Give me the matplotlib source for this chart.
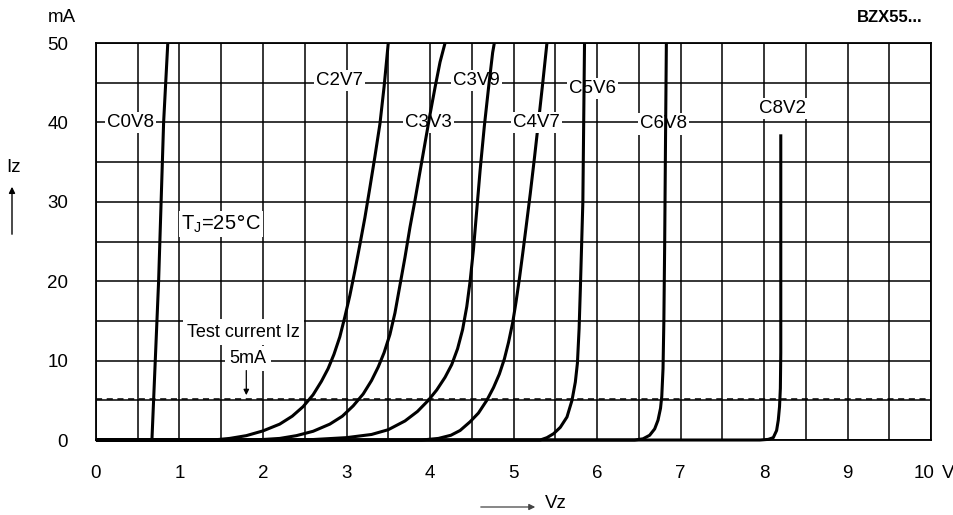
import matplotlib
matplotlib.use("Agg")
import matplotlib.pyplot as plt
from matplotlib.patches import FancyArrowPatch
from matplotlib.transforms import ScaledTranslation
import numpy as np

plt.rcParams['font.family'] = ['Liberation Sans', 'DejaVu Sans']

# Zener curves (V in volts, I in mA)
c0v8_v = [0.0, 0.67, 0.69, 0.71, 0.75, 0.78, 0.81, 0.86]
c0v8_i = [0.0, 0.0, 5.0, 10.0, 20.0, 30.0, 40.0, 50.0]

c2v7_v = [0.0, 1.4, 1.6, 1.8, 2.0, 2.2, 2.35, 2.48, 2.6, 2.7, 2.78, 2.85, 2.92,
          2.98, 3.04, 3.10, 3.16, 3.22, 3.28, 3.34, 3.40, 3.45, 3.50]
c2v7_i = [0.0, 0.0, 0.2, 0.55, 1.15, 2.0, 3.0, 4.2, 5.7, 7.4, 9.0, 10.8, 13.0,
          15.5, 18.2, 21.3, 24.6, 28.0, 31.8, 35.7, 39.8, 44.5, 50.0]

c3v3_v = [0.0, 1.9, 2.2, 2.4, 2.6, 2.8, 2.95, 3.08, 3.2, 3.3, 3.38, 3.45, 3.52,
          3.58, 3.64, 3.70, 3.76, 3.82, 3.88, 3.94, 4.00, 4.06, 4.12, 4.18]
c3v3_i = [0.0, 0.0, 0.2, 0.55, 1.1, 2.0, 3.0, 4.3, 5.8, 7.5, 9.2, 11.0, 13.3,
          16.0, 19.5, 23.0, 26.8, 30.2, 33.8, 37.4, 41.0, 44.4, 47.6, 50.0]

c3v9_v = [0.0, 2.5, 3.0, 3.3, 3.5, 3.7, 3.85, 3.98, 4.08, 4.18, 4.26, 4.33, 4.39,
          4.44, 4.48, 4.52, 4.56, 4.60, 4.65, 4.70, 4.75, 4.77]
c3v9_i = [0.0, 0.0, 0.3, 0.7, 1.3, 2.4, 3.6, 5.0, 6.3, 7.9, 9.5, 11.5, 13.9,
          16.8, 20.0, 24.0, 29.0, 34.0, 39.5, 44.3, 48.8, 50.0]

c4v7_v = [0.0, 3.9, 4.1, 4.25, 4.36, 4.48, 4.58, 4.68, 4.76, 4.83, 4.89, 4.94,
          4.99, 5.03, 5.07, 5.11, 5.15, 5.20, 5.25, 5.30, 5.35, 5.40]
c4v7_i = [0.0, 0.0, 0.2, 0.6, 1.2, 2.3, 3.4, 5.0, 6.6, 8.3, 10.2, 12.3,
          14.8, 17.4, 20.3, 23.5, 26.8, 31.0, 35.5, 40.2, 45.0, 50.0]

c5v6_v = [0.0, 5.32, 5.40, 5.48, 5.56, 5.64, 5.70, 5.74, 5.765, 5.785, 5.80,
          5.815, 5.83, 5.84, 5.85]
c5v6_i = [0.0, 0.0, 0.3, 0.8, 1.6, 2.9, 5.0, 7.3, 9.7, 14.0, 19.0,
          24.5, 30.0, 40.0, 50.0]

c6v8_v = [0.0, 6.45, 6.55, 6.63, 6.69, 6.73, 6.76, 6.775, 6.79, 6.80, 6.81, 6.82, 6.83]
c6v8_i = [0.0, 0.0, 0.15, 0.6, 1.4, 2.5, 4.0, 5.5, 9.0, 15.0, 25.0, 38.0, 50.0]

c8v2_v = [0.0, 7.95, 8.05, 8.11, 8.15, 8.17, 8.185, 8.195, 8.20, 8.20]
c8v2_i = [0.0, 0.0, 0.08, 0.3, 1.2, 2.5, 4.2, 6.5, 11.0, 38.5]

curves = [
    (c0v8_v, c0v8_i, 4), (c2v7_v, c2v7_i, 4), (c3v3_v, c3v3_i, 4),
    (c3v9_v, c3v9_i, 4), (c4v7_v, c4v7_i, 2), (c5v6_v, c5v6_i, 4),
    (c6v8_v, c6v8_i, 4), (c8v2_v, c8v2_i, 4),
]

# curve labels: text, V, mA
label_text = ["C0V8", "C2V7", "C3V9", "C3V3", "C4V7", "C5V6", "C6V8", "C8V2"]
label_v = [0.41, 2.92, 4.56, 3.98, 5.28, 5.95, 6.80, 8.22]
label_i = [40.0, 45.3, 45.3, 40.0, 40.0, 44.3, 39.8, 41.8]

test_current = 5.2

fig = plt.figure(figsize=(9.54, 5.15), dpi=100)
ax = fig.add_axes([0.1006, 0.1456, 0.8754, 0.7709])

ax.set_xlim(0, 10)
ax.set_ylim(0, 50)
ax.set_xticks(range(0, 11))
ax.set_xticklabels([str(v) for v in range(0, 11)])
ax.set_xticks(np.arange(0, 10.01, 0.5), minor=True)
ax.set_yticks(range(0, 51, 10))
ax.set_yticks(range(0, 51, 5), minor=True)
ax.tick_params(which='both', length=0)
ax.tick_params(axis='x', pad=18, labelsize=13.5)
ax.tick_params(axis='y', pad=20, labelsize=13.5)
ax.grid(True, which='both', color='black', lw=1.1, zorder=1)
ax.set_axisbelow(True)
for s in ax.spines.values():
    s.set_color('black')
    s.set_linewidth(1.3)

# shift the "10" a bit left to leave room for the unit
last = ax.get_xticklabels()[-1]
last.set_transform(last.get_transform() + ScaledTranslation(-0.07, 0, fig.dpi_scale_trans))

ax.axhline(test_current, color='black', lw=1.1, ls=(0, (4, 3)), zorder=2)

for v, i, z in curves:
    ax.plot(v, i, color='black', lw=2.2, zorder=z, solid_capstyle='butt',
            solid_joinstyle='round', clip_on=False)

box = dict(facecolor='white', edgecolor='none', pad=1.5)
for t, v, i in zip(label_text, label_v, label_i):
    ax.text(v, i, t, ha='center', va='center', fontsize=13.5, zorder=3, bbox=box)

ax.text(1.5, 27.2, r"T$_\mathregular{J}$=25$\degree$C", ha='center', va='center',
        fontsize=14.5, zorder=3, bbox=box)
ax.text(1.77, 13.6, "Test current Iz", ha='center', va='center', fontsize=13,
        zorder=3, bbox=dict(facecolor='white', edgecolor='none', pad=3))
ax.text(1.82, 10.3, "5mA", ha='center', va='center', fontsize=13, zorder=3,
        bbox=dict(facecolor='white', edgecolor='none', pad=3))
ax.annotate("", xy=(1.80, test_current + 0.1), xytext=(1.80, 9.1),
            arrowprops=dict(arrowstyle='-|>', color='black', lw=0.9,
                            mutation_scale=8), zorder=3)

# outside texts
fig.text(62 / 954, 1 - 18 / 515, "mA", ha='center', va='center', fontsize=13.5)
fig.text(948 / 954, 1 - 473 / 515, "V", ha='center', va='center', fontsize=13.5)
fig.text(890 / 954, 1 - 18 / 515, "BZX55...", ha='center', va='center',
         fontsize=12, fontweight='bold')
fig.text(14 / 954, 1 - 167 / 515, "Iz", ha='center', va='center', fontsize=13.5)
fig.text(556 / 954, 1 - 503 / 515, "Vz", ha='center', va='center', fontsize=13.5)
fig.patches.append(FancyArrowPatch(
    (12 / 954, 1 - 237 / 515), (12 / 954, 1 - 184 / 515),
    transform=fig.transFigure, arrowstyle='-|>', mutation_scale=9,
    color='black', lw=1.0))
fig.patches.append(FancyArrowPatch(
    (478 / 954, 1 - 507 / 515), (538 / 954, 1 - 507 / 515),
    transform=fig.transFigure, arrowstyle='-|>', mutation_scale=9,
    color='#444444', lw=0.9))

fig.savefig("out.png", dpi=100)
